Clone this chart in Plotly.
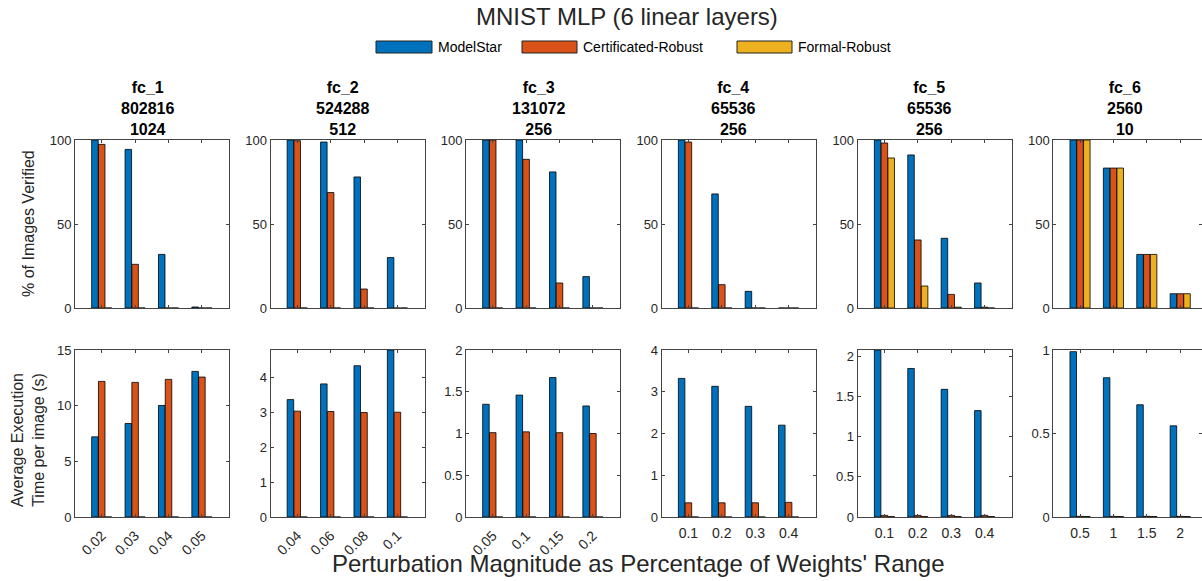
import plotly.graph_objects as go
from plotly.subplots import make_subplots

# ---------------- data ----------------
layer_names = ["fc_1", "fc_2", "fc_3", "fc_4", "fc_5", "fc_6"]
layer_params = [802816, 524288, 131072, 65536, 65536, 2560]
layer_neurons = [1024, 512, 256, 256, 256, 10]

perturbations = [
    ["0.02", "0.03", "0.04", "0.05"],
    ["0.04", "0.06", "0.08", "0.1"],
    ["0.05", "0.1", "0.15", "0.2"],
    ["0.1", "0.2", "0.3", "0.4"],
    ["0.1", "0.2", "0.3", "0.4"],
    ["0.5", "1", "1.5", "2"],
]

series_names = ["ModelStar", "Certificated-Robust", "Formal-Robust"]

verified_modelstar = [
    [100, 94.4, 31.9, 0.6],
    [100, 98.8, 78.0, 30.0],
    [100, 100, 81.0, 18.7],
    [100, 67.9, 9.9, 0],
    [100, 91.1, 41.5, 14.9],
    [100, 83.3, 31.9, 8.5],
]
verified_cert = [
    [97.4, 26.0, 0, 0],
    [99.6, 68.7, 11.3, 0],
    [100, 88.5, 14.9, 0],
    [98.8, 13.9, 0, 0],
    [98.2, 40.5, 8.1, 0.5],
    [100, 83.3, 31.9, 8.5],
]
verified_formal = [
    [0, 0, 0, 0],
    [0, 0, 0, 0],
    [0, 0, 0, 0],
    [0, 0, 0, 0],
    [89.3, 13.1, 0.5, 0],
    [100, 83.3, 31.9, 8.5],
]

time_modelstar = [
    [7.2, 8.4, 10.02, 13.08],
    [3.36, 3.81, 4.33, 4.78],
    [1.35, 1.46, 1.67, 1.33],
    [3.32, 3.13, 2.65, 2.2],
    [2.08, 1.85, 1.59, 1.325],
    [0.99, 0.834, 0.672, 0.546],
]
time_cert = [
    [12.18, 12.09, 12.36, 12.57],
    [3.03, 3.02, 2.99, 3.0],
    [1.01, 1.02, 1.01, 1.0],
    [0.34, 0.34, 0.34, 0.35],
    [0.02, 0.02, 0.02, 0.02],
    [0.004, 0.004, 0.004, 0.004],
]
time_formal = [
    [0, 0, 0, 0],
    [0, 0, 0, 0],
    [0, 0, 0, 0],
    [0, 0, 0, 0],
    [0.005, 0.005, 0.005, 0.005],
    [0.003, 0.003, 0.003, 0.003],
]

# ---------------- layout config ----------------
W, H = 1202, 581
colors = ["#0072BD", "#D95319", "#EDB120"]
FONT = "Liberation Sans, Arial, Helvetica, sans-serif"
TXT = "#262626"
lefts = [75, 270.5, 466, 661.7, 857.7, 1053.3]
PW = 154
STEP = 33.4  # px per category
top_row = (140, 308)
bot_row = (350, 517)
time_ymax = [15, 4.78, 2, 4, 2.08, 1]
time_dtick = [5, 1, 0.5, 1, 0.5, 0.5]
rot = [-45, -45, -45, 0, 0, 0]

fig = make_subplots(rows=2, cols=6)

top_data = [verified_modelstar, verified_cert, verified_formal]
bot_data = [time_modelstar, time_cert, time_formal]

for i in range(6):
    for s in range(3):
        fig.add_trace(go.Bar(x=perturbations[i], y=top_data[s][i], name=series_names[s],
                             marker=dict(color=colors[s], line=dict(color="black", width=0.8)),
                             showlegend=False), row=1, col=i + 1)
        fig.add_trace(go.Bar(x=perturbations[i], y=bot_data[s][i], name=series_names[s],
                             marker=dict(color=colors[s], line=dict(color="black", width=0.8)),
                             showlegend=False), row=2, col=i + 1)

axcommon = dict(showline=True, linecolor="#444444", linewidth=1, mirror="allticks",
                ticks="inside", ticklen=3, tickcolor="#444444", showgrid=False, zeroline=False,
                automargin=False,
                tickfont=dict(family=FONT, size=13, color=TXT))

upd = {}
for i in range(6):
    l = lefts[i]
    r = min(l + PW, W)
    xdom = [l / W, r / W]
    xr = [-0.8, -0.8 + (r - l) / STEP]
    nt = i + 1
    nb = i + 7
    upd[f"xaxis{nt}"] = dict(axcommon, domain=xdom, type="category", range=xr, showticklabels=False)
    upd[f"xaxis{nb}"] = dict(axcommon, domain=xdom, type="category", range=xr, tickangle=rot[i],
                             ticklabelstandoff=4 if rot[i] else 3,
                             tickfont=dict(family=FONT, size=14, color=TXT))
    upd[f"yaxis{nt}"] = dict(axcommon, domain=[1 - top_row[1] / H, 1 - top_row[0] / H],
                             range=[0, 100], tickvals=[0, 50, 100])
    upd[f"yaxis{nb}"] = dict(axcommon, domain=[1 - bot_row[1] / H, 1 - bot_row[0] / H],
                             range=[0, time_ymax[i]], dtick=time_dtick[i], tick0=0)
fig.update_layout(**upd)

ann = []
shapes = []
# title
ann.append(dict(text="MNIST MLP (6 linear layers)", x=627 / W, y=1 - 16 / H, xref="paper", yref="paper",
                showarrow=False, xanchor="center", yanchor="middle",
                font=dict(family=FONT, size=24, color=TXT)))
# legend
leg_boxes = [(376, 432), (522, 577), (737, 792)]
for s in range(3):
    x0, x1 = leg_boxes[s]
    shapes.append(dict(type="rect", xref="paper", yref="paper", x0=x0 / W, x1=x1 / W,
                       y0=1 - 53 / H, y1=1 - 41 / H, fillcolor=colors[s],
                       line=dict(color="#222", width=1)))
    ann.append(dict(text=series_names[s], x=(x1 + 4) / W, y=1 - 47 / H, xref="paper", yref="paper",
                    showarrow=False, xanchor="left", yanchor="middle",
                    font=dict(family=FONT, size=14, color="black")))
# column titles
for i in range(6):
    cx = lefts[i] + PW / 2 - 5
    ann.append(dict(text=f"<b>{layer_names[i]}<br>{layer_params[i]}<br>{layer_neurons[i]}</b>",
                    x=cx / W, y=1 - 108 / H, xref="paper", yref="paper", showarrow=False,
                    xanchor="center", yanchor="middle",
                    font=dict(family=FONT, size=16, color="black")))
# axis titles
ann.append(dict(text="% of Images Verified", x=28 / W, y=1 - 224 / H, xref="paper", yref="paper",
                showarrow=False, textangle=-90, xanchor="center", yanchor="middle",
                font=dict(family=FONT, size=16, color=TXT)))
ann.append(dict(text="Average Execution<br>Time per image (s)", x=28 / W, y=1 - 440 / H,
                xref="paper", yref="paper", showarrow=False, textangle=-90,
                xanchor="center", yanchor="middle",
                font=dict(family=FONT, size=16, color=TXT)))
ann.append(dict(text="Perturbation Magnitude as Percentage of Weights' Range", x=638 / W, y=1 - 563 / H,
                xref="paper", yref="paper", showarrow=False, xanchor="center", yanchor="middle",
                font=dict(family=FONT, size=24, color=TXT)))

fig.update_layout(width=W, height=H, margin=dict(l=0, r=0, t=0, b=0, autoexpand=False),
                  paper_bgcolor="white", plot_bgcolor="white",
                  barmode="group", bargap=0.39, bargroupgap=0.04,
                  annotations=ann, shapes=shapes, showlegend=False,
                  font=dict(family=FONT, color=TXT))

fig.write_html("out.html")
